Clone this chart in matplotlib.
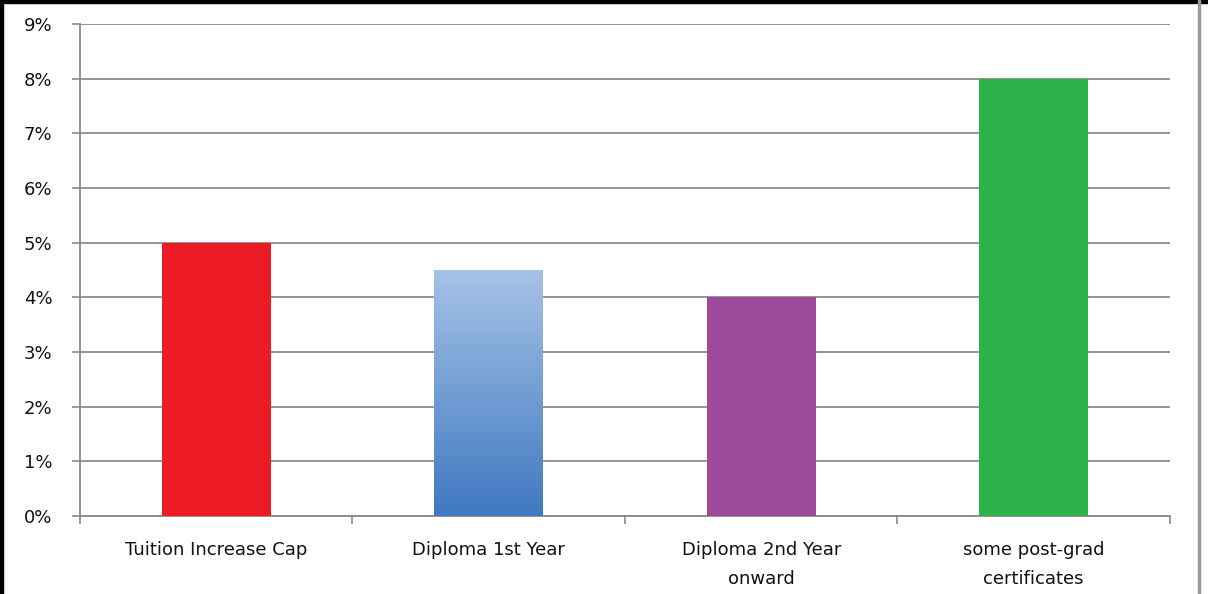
import numpy as np
import matplotlib.pyplot as plt
from matplotlib.patches import Rectangle
from matplotlib.colors import LinearSegmentedColormap
from matplotlib.ticker import PercentFormatter

# Data
categories = ["Tuition Increase Cap", "Diploma 1st Year", "Diploma 2nd Year\nonward",
              "some post-grad\ncertificates"]
values = [5.0, 4.5, 4.0, 8.0]
colors = ["#ed1c24", "#4a80c4", "#9e4a9c", "#2db24a"]
yticks = list(range(0, 10))

fig = plt.figure(figsize=(12.08, 5.94), dpi=100)
ax = fig.add_axes([0.0662, 0.1313, 0.9023, 0.8283])

x = np.arange(len(categories))
bars = ax.bar(x, values, width=0.4, color=colors, zorder=3)

# gradient fill for the second bar
grad = LinearSegmentedColormap.from_list("blue_grad", ["#3f79c1", "#a6c2e6"])
b = bars[1]
b.set_facecolor("none")
img = ax.imshow(np.linspace(0, 1, 256).reshape(-1, 1), cmap=grad, aspect="auto",
                origin="lower", extent=(b.get_x(), b.get_x() + b.get_width(), 0, b.get_height()),
                zorder=3)
img.set_clip_path(b)

ax.set_xlim(-0.5, len(categories) - 0.5)
ax.set_ylim(0, 9)
ax.set_yticks(yticks)
ax.yaxis.set_major_formatter(PercentFormatter(decimals=0))
ax.set_xticks(x)
ax.set_xticklabels(categories, fontsize=13, color="#111111", linespacing=1.75)
ax.tick_params(axis="x", length=0, pad=18)
ax.set_xticks(np.arange(-0.5, len(categories)), minor=True)
ax.tick_params(axis="x", which="minor", length=6, color="#8a8a8a", width=1.2)
ax.tick_params(axis="y", length=6, color="#8a8a8a", width=1.2, labelsize=13,
               labelcolor="#111111", pad=14)

ax.grid(axis="y", color="#8c8c8c", linewidth=1.3, zorder=0)
for s in ["top", "right"]:
    ax.spines[s].set_visible(False)
for s in ["left", "bottom"]:
    ax.spines[s].set_color("#8a8a8a")
    ax.spines[s].set_linewidth(1.3)

# outer borders of the screenshot
fig.patches.append(Rectangle((0, 0.995), 1, 0.005, transform=fig.transFigure,
                             color="black", zorder=10))
fig.patches.append(Rectangle((0, 0), 0.0025, 1, transform=fig.transFigure,
                             color="black", zorder=10))
fig.patches.append(Rectangle((0.9915, 0), 0.002, 1, transform=fig.transFigure,
                             color="#9a9a9a", zorder=10))

fig.savefig("out.png", dpi=100)
